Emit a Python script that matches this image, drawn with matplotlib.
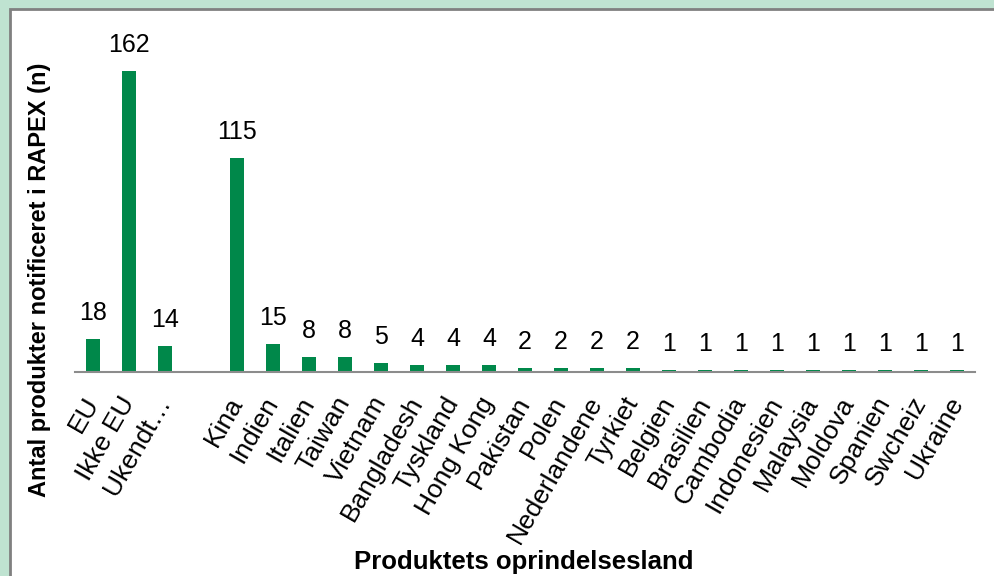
import matplotlib
matplotlib.use("Agg")
import matplotlib.pyplot as plt
from matplotlib.patches import Rectangle

plt.rcParams['font.family'] = ['Liberation Sans', 'DejaVu Sans']

countries = ["EU", "Ikke EU", "Ukendt…", "", "Kina", "Indien", "Italien", "Taiwan",
             "Vietnam", "Bangladesh", "Tyskland", "Hong Kong", "Pakistan", "Polen",
             "Nederlandene", "Tyrkiet", "Belgien", "Brasilien", "Cambodia",
             "Indonesien", "Malaysia", "Moldova", "Spanien", "Swcheiz", "Ukraine"]
counts = [18, 162, 14, None, 115, 15, 8, 8, 5, 4, 4, 4, 2, 2, 2, 2,
          1, 1, 1, 1, 1, 1, 1, 1, 1]

fig = plt.figure(figsize=(9.94, 5.76), dpi=100, facecolor="#bfe3d1")
# white chart area with grey frame
fig.patches.append(Rectangle((9.5/994, -0.1), 1.1, 1.1 - 9/576, transform=fig.transFigure,
                             facecolor="white", edgecolor="#808080", linewidth=2, zorder=-10))

ax = fig.add_axes([75/994, 1 - 372/576, 900/994, 325.5/576])
ax.set_facecolor("none")

xs = [i for i, c in enumerate(counts) if c is not None]
vals = [c for c in counts if c is not None]
ax.bar(xs, vals, width=0.4, color="#00884a", zorder=2)
for x, v in zip(xs, vals):
    ax.annotate(str(v), (x, v), xytext=(0, 10), textcoords="offset points",
                ha="center", va="bottom", fontsize=18)

ax.set_xlim(-0.5, len(counts) - 0.5)
ax.set_ylim(0, 175)
ax.set_xticks(range(len(countries)))
ax.set_xticklabels(countries, rotation=60, ha="right", va="center",
                   rotation_mode="anchor", fontsize=19)
ax.tick_params(axis="x", length=0, pad=19)
ax.set_yticks([])
for s in ["top", "right", "left"]:
    ax.spines[s].set_visible(False)
ax.spines["bottom"].set_color("#8c8c8c")
ax.spines["bottom"].set_linewidth(1.5)

fig.text(40/994, 1 - 280/576, "Antal produkter notificeret i RAPEX (n)", rotation=90,
         ha="center", va="center", fontsize=17, fontweight="bold")
fig.text(524/994, 1 - 562/576, "Produktets oprindelsesland", ha="center", va="center",
         fontsize=18.5, fontweight="bold")

fig.savefig("out.png", dpi=100, facecolor=fig.get_facecolor())
